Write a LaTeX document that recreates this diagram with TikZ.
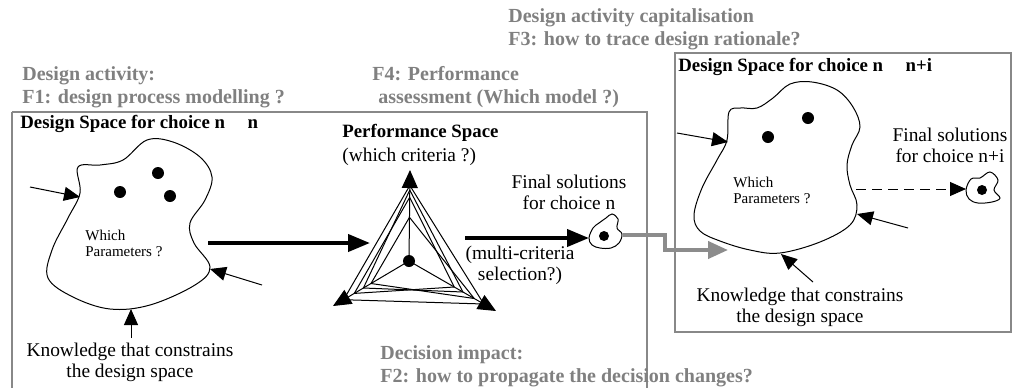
\documentclass[tikz,border=0pt]{standalone}
\usepackage{fontspec}
\setmainfont{Liberation Serif}
\usetikzlibrary{arrows.meta,calc}
\definecolor{hdrgray}{RGB}{128,128,128}
\definecolor{boxgray}{RGB}{136,136,136}
\definecolor{arrgray}{RGB}{140,140,140}
\tikzset{
  hdr/.style={text=hdrgray, font=\bfseries\fontsize{10}{11.5}\selectfont, align=left, inner sep=0pt},
  body/.style={font=\fontsize{9.7}{10.6}\selectfont, inner sep=0pt},
  smalltxt/.style={font=\fontsize{7.5}{8}\selectfont, inner sep=0pt, align=left},
  ttl/.style={font=\bfseries\fontsize{9.4}{11}\selectfont, inner sep=0pt},
  frame/.style={draw=boxgray, line width=0.75pt},
  thinarr/.style={-{Triangle[length=8pt,width=7pt]}, line width=0.5pt},
  thickarr/.style={-{Triangle[length=11pt,width=8.5pt]}, line width=2pt},
  grayarr/.style={-{Triangle[length=10pt,width=8.5pt]}, line width=2pt, draw=arrgray, color=arrgray},
  blob/.style={draw, line width=0.5pt},
  dot/.style={circle, fill, inner sep=0pt, minimum size=6pt},
  sdot/.style={circle, fill, inner sep=0pt, minimum size=5pt},
  radar/.style={line width=0.5pt}
}
\begin{document}
\begin{tikzpicture}[x=0.5pt,y=-0.5pt]
\useasboundingbox (0,0) rectangle (1013,387);
% frames
\draw[frame] (12,112) -- (647,112) -- (647,395) (12,395) -- (12,112);
\draw[frame] (675,53) rectangle (1011,332);
% headers
\node[hdr, anchor=north west] (h3) at (508,8) {Design activity capitalisation\\F3: how to trace design rationale?};
\node[hdr, anchor=north west] (h1) at (22,66) {Design activity:\\F1: design process modelling ?};
\node[hdr, anchor=north west] (h4) at (372,66) {F4: Performance\\\hspace*{3pt}assessment (Which model ?)};
\node[hdr, anchor=north west] (h2) at (380,345) {Decision impact:\\F2: how to propagate the decision changes?};
% titles
\node[ttl, anchor=west] (t1) at (20,124) {Design Space for choice n\hspace{1.2em}n};
\node[ttl, anchor=west] (t2) at (678,67) {Design Space for choice n\hspace{1.2em}n+i};
% left blob
\draw[blob] plot[smooth cycle, tension=0.6] coordinates {(78,167) (100,165) (123,160) (147,140) (173,142) (200,157) (212,177) (205,200) (190,223) (194,243) (210,267) (195,285) (150,305) (110,309) (73,297) (48,278) (52,250) (68,218) (80,193)};
\node[dot] (ld1) at (120,192) {};
\node[dot] (ld2) at (158,173) {};
\node[dot] (ld3) at (170,196) {};
\node[smalltxt, anchor=north west] (lwp) at (85,230) {Which\\Parameters ?};
\coordinate (lin1) at (30,187);
\coordinate (ltip1) at (80,197);
\coordinate (lin2) at (262,285);
\coordinate (ltip2) at (210,269);
\coordinate (lin3) at (131,338);
\coordinate (ltip3) at (131,309);
\draw[thinarr] (lin1) -- (ltip1);
\draw[thinarr] (lin2) -- (ltip2);
\draw[thinarr] (lin3) -- (ltip3);
\node[body, align=center] (lk) at (130,362) {Knowledge that constrains\\the design space};
% performance space
\node[anchor=north west, inner sep=0pt, align=left] (ps) at (342,124) {{\bfseries\fontsize{9.4}{11}\selectfont Performance Space}\\{\fontsize{9.7}{10.6}\selectfont (which criteria ?)}};
\coordinate (ls) at (208,243);
\coordinate (le) at (370,243);
\draw[thickarr] (ls) -- (le);
\coordinate (C) at (409,261);
\coordinate (T) at (410,170);
\coordinate (L) at (333,306);
\coordinate (R) at (496,311);
\draw[thinarr, -{Triangle[length=9pt,width=8pt]}] (C) -- (T);
\draw[thinarr, -{Triangle[length=9pt,width=8pt]}] (C) -- (L);
\draw[thinarr, -{Triangle[length=9pt,width=8pt]}] (C) -- (R);
\draw[radar, line join=round] ($(C)!0.83!(T)$) -- ($(C)!0.86!(L)$) -- ($(C)!0.86!(R)$) -- cycle;
\draw[radar, line join=round] ($(C)!0.70!(T)$) -- ($(C)!0.72!(L)$) -- ($(C)!0.52!(R)$) -- cycle;
\draw[radar, line join=round] ($(C)!0.48!(T)$) -- ($(C)!0.50!(L)$) -- ($(C)!0.75!(R)$) -- cycle;
\draw[radar, line join=round] ($(C)!0.78!(T)$) -- ($(C)!0.60!(L)$) -- ($(C)!0.62!(R)$) -- cycle;
\node[dot] (cd) at (C) {};
% final solutions n
\node[body, align=center] (fs1) at (569,192) {Final solutions\\for choice n};
\coordinate (ms) at (465,238);
\coordinate (me) at (589,238);
\draw[thickarr] (ms) -- (me);
\node[body, align=center] (mc) at (520,265) {(multi-criteria\\selection?)};
\draw[blob] plot[smooth cycle, tension=0.6] coordinates {(589,238) (593,228) (599,223) (606,218) (612,214) (618,219) (617,228) (622,234) (619,243) (611,248) (600,248) (592,245)};
\node[sdot] (sd1) at (604,236) {};
% gray propagation arrow
\coordinate (g0) at (623,235);
\coordinate (g1) at (665,235);
\coordinate (g2) at (665,250);
\coordinate (g3) at (728,250);
\draw[grayarr] (g0) -- (g1) -- (g2) -- (g3);
% right blob
\draw[blob] plot[smooth cycle, tension=0.6] coordinates {(729,112) (740,108) (757,108) (773,98) (790,84) (812,82) (837,90) (853,107) (860,127) (852,145) (847,165) (850,185) (857,205) (850,225) (820,242) (780,253) (750,250) (720,241) (700,231) (694,215) (702,188) (717,160) (727,140)};
\node[dot] (rd1) at (808,118) {};
\node[dot] (rd2) at (768,137) {};
\node[smalltxt, anchor=north west] (rwp) at (733,177) {Which\\Parameters ?};
\coordinate (rin1) at (677,133);
\coordinate (rtip1) at (728,142);
\coordinate (rin2) at (908,228);
\coordinate (rtip2) at (857,214);
\coordinate (rin3) at (813,282);
\coordinate (rtip3) at (781,254);
\draw[thinarr] (rin1) -- (rtip1);
\draw[thinarr] (rin2) -- (rtip2);
\draw[thinarr] (rin3) -- (rtip3);
\node[body, align=center] (rk) at (800,307) {Knowledge that constrains\\the design space};
\node[body, align=center] (fs2) at (950,145) {Final solutions\\for choice n+i};
\coordinate (ds) at (856,189);
\coordinate (de) at (966,189);
\draw[thinarr, dash pattern=on 5pt off 3pt] (ds) -- (de);
\draw[blob] plot[smooth cycle, tension=0.6] coordinates {(966,190) (971,179) (980,178) (990,172) (998,180) (994,190) (1000,198) (992,202) (978,203) (969,199)};
\node[sdot] (sd2) at (982,190) {};
\end{tikzpicture}
\end{document}
